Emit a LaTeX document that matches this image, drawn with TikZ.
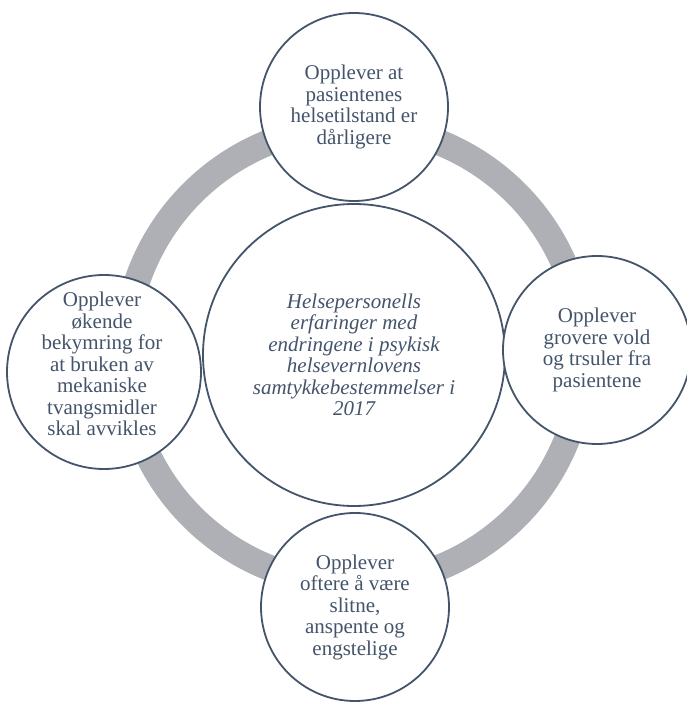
\documentclass[tikz,border=0pt]{standalone}
\usepackage{fontspec}
\setmainfont{Liberation Serif}
\definecolor{slate}{HTML}{44546A}
\definecolor{ringgray}{HTML}{AEB0B5}
\begin{document}
\begin{tikzpicture}[x=1pt,y=1pt,
  hub/.style={circle, draw=slate, line width=1.8pt, fill=white, minimum size=302pt, inner sep=0pt},
  sat/.style={circle, draw=slate, line width=1.8pt, fill=white, minimum size=188pt, inner sep=0pt},
  label/.style={text=slate, align=center, inner sep=0pt, font=\fontsize{21}{21.5}\selectfont}]
\useasboundingbox (0,0) rectangle (686,702);
% grey cycle ring behind the circles
\coordinate (ringc) at (354,347);
\draw[ringgray, line width=26pt] (ringc) circle[radius=229];
% circles
\node[hub] (hubc) at (354,347) {};
\node[sat] (topc) at (354,595) {};
\node[sat] (rightc) at (597,352) {};
\node[sat] (botc) at (355,95) {};
\node[sat, minimum size=194pt] (leftc) at (104,330) {};
% texts
\node[label, font=\fontsize{21}{21.5}\selectfont\itshape] (hubt) at (hubc) {Helsepersonells\\erfaringer med\\endringene i psykisk\\helsevernlovens\\samtykkebestemmelser i\\2017};
\node[label] (topt) at (topc) {Opplever at\\pasientenes\\helsetilstand er\\dårligere};
\node[label] (rightt) at (rightc) {Opplever\\grovere vold\\og trsuler fra\\pasientene};
\node[label] (bott) at (botc) {Opplever\\oftere å være\\slitne,\\anspente og\\engstelige};
\node[label] (leftt) at ([xshift=-2pt,yshift=8pt]leftc) {Opplever\\økende\\bekymring for\\at bruken av\\mekaniske\\tvangsmidler\\skal avvikles};
\end{tikzpicture}
\end{document}
